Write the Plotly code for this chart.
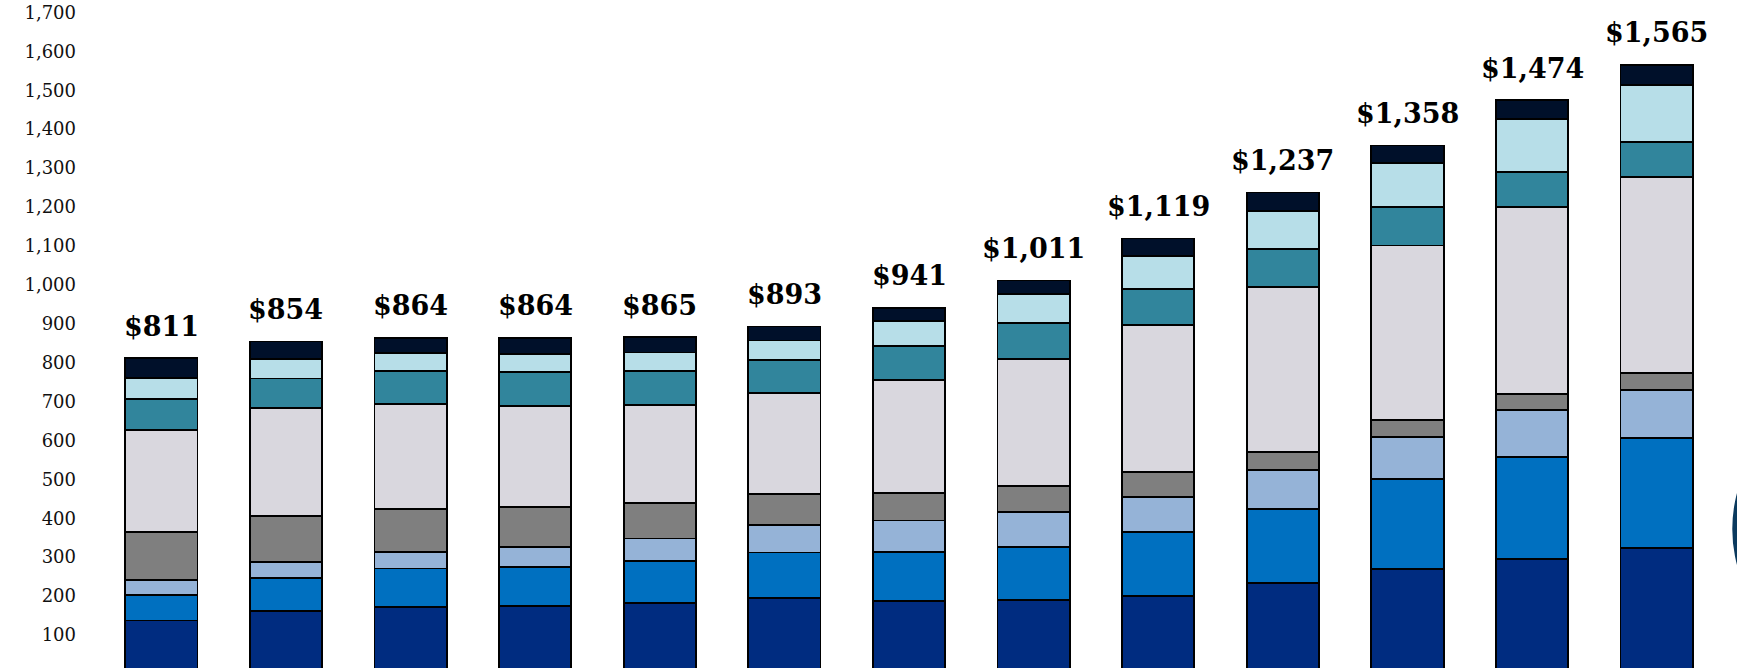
import plotly.graph_objects as go

# ---- data ----
periods = list(range(13))
totals = [811, 854, 864, 864, 865, 893, 941, 1011, 1119, 1237, 1358, 1474, 1565]

seg1 = [137, 161, 172, 174, 183, 194, 188, 190, 201, 234, 269, 295, 323]   # dark navy (bottom)
seg2 = [66, 85, 99, 101, 107, 118, 126, 137, 163, 190, 231, 263, 283]      # blue
seg3 = [38, 41, 43, 51, 58, 70, 80, 88, 91, 100, 109, 120, 124]            # light blue
seg4 = [123, 118, 110, 102, 92, 80, 70, 68, 64, 47, 43, 41, 43]            # gray
seg5 = [262, 278, 270, 260, 251, 259, 291, 326, 377, 424, 449, 480, 504]   # light gray
seg6 = [81, 76, 85, 87, 87, 86, 88, 92, 93, 97, 99, 90, 90]                # teal
seg7 = [53, 50, 45, 47, 48, 50, 64, 75, 85, 98, 114, 137, 147]             # light cyan
seg8 = [51, 45, 40, 42, 39, 36, 34, 35, 45, 47, 44, 48, 51]                # very dark (top)

series = [seg1, seg2, seg3, seg4, seg5, seg6, seg7, seg8]
colors = ["#002C80", "#0070C0", "#95B3D7", "#7F7F7F",
          "#D9D7DE", "#31859C", "#B7DEE8", "#00102A"]

tick_vals = list(range(100, 1800, 100))
tick_text = [f"{v:,}" for v in tick_vals]

fig = go.Figure()
for vals, col in zip(series, colors):
    fig.add_trace(go.Bar(
        x=periods, y=vals,
        marker=dict(color=col, line=dict(color="#000000", width=1.8)),
        hoverinfo="y",
    ))

for x, t in zip(periods, totals):
    fig.add_annotation(
        x=x, y=t, text=f"<b>${t:,}</b>", showarrow=False,
        yanchor="middle", yshift=32,
        font=dict(family="DejaVu Serif, Georgia, serif", size=27, color="#000000"),
    )

# partial round element at the right edge
fig.add_shape(type="circle", xref="paper", yref="paper",
              x0=1.0082, x1=1.181, y0=-0.0015, y1=0.4177,
              fillcolor="#0B3A5E", line=dict(width=0), layer="above")

fig.update_layout(
    barmode="stack",
    bargap=0.42,
    width=1737, height=668,
    margin=dict(l=99, r=18, t=0, b=0),
    paper_bgcolor="#FFFFFF", plot_bgcolor="#FFFFFF",
    showlegend=False,
    font=dict(family="DejaVu Serif, Georgia, serif", color="#000000"),
)
fig.update_xaxes(range=[-0.5, 12.5], showticklabels=False, showgrid=False,
                 zeroline=False, showline=False, ticks="")
fig.update_yaxes(range=[15, 1732], tickvals=tick_vals, ticktext=tick_text,
                 showgrid=False, zeroline=False, showline=False, ticks="",
                 ticklabelstandoff=22,
                 tickfont=dict(family="DejaVu Serif, Georgia, serif", size=18, color="#111111"))

fig.write_html("out.html")
